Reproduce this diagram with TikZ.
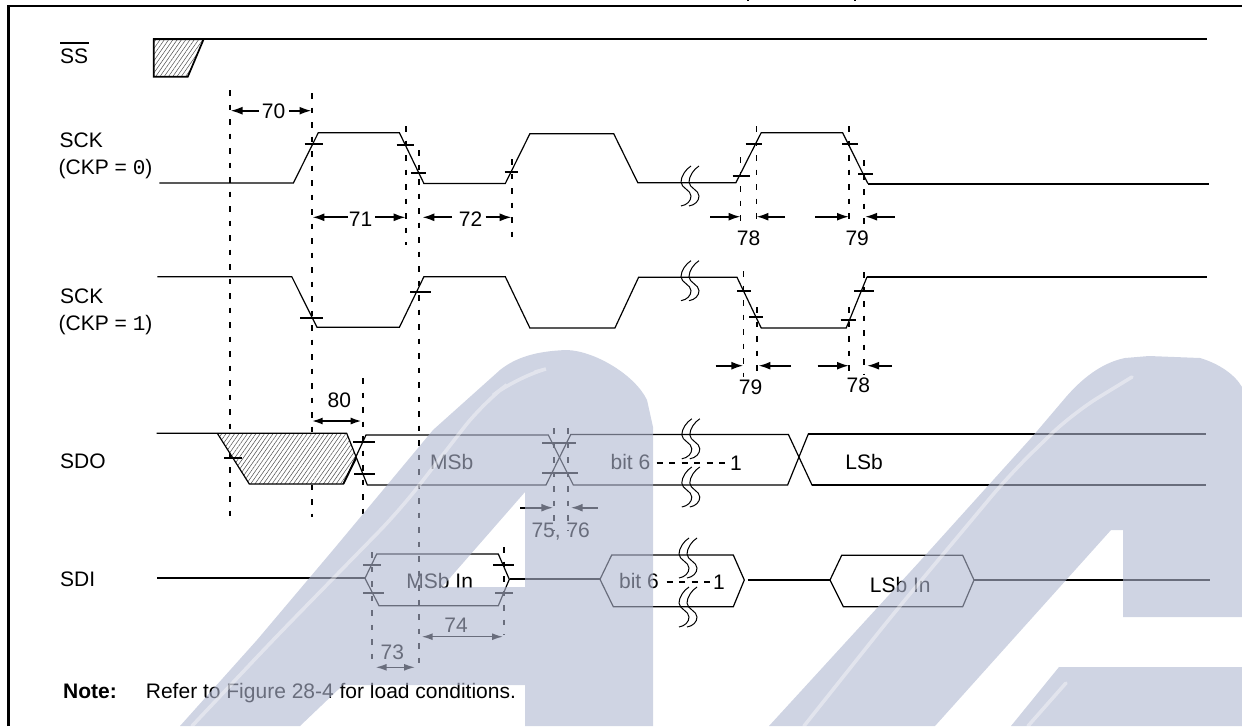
\documentclass[tikz,border=0pt]{standalone}
\usepackage{fontspec}
\setmainfont{Liberation Sans}
\newfontfamily\digitfont{Liberation Mono}
\usetikzlibrary{arrows.meta,patterns.meta}
\definecolor{wmark}{RGB}{175,183,208}
\tikzset{
  wave/.style={line width=1.2pt,line join=miter},
  wavethick/.style={line width=2pt},
  edgetick/.style={line width=1.8pt},
  guide/.style={line width=1.7pt,dash pattern=on 5.5pt off 9pt},
  gapdash/.style={line width=1.5pt,dash pattern=on 6pt off 6.5pt},
  frameline/.style={line width=2.5pt},
  dim/.style={line width=1.9pt},
  dimsmall/.style={line width=1.5pt},
  tipr/.style={-{Latex[length=12pt,width=8pt]}},
  tipb/.style={{Latex[length=11pt,width=7pt]}-{Latex[length=11pt,width=7pt]}},
  lab/.style={inner sep=0pt,anchor=base,font=\fontsize{21pt}{24pt}\selectfont},
  labw/.style={inner sep=0pt,anchor=base west,font=\fontsize{21pt}{24pt}\selectfont},
  hatchfill/.style={pattern={Lines[angle=55,distance=3.5pt,line width=.5pt]},pattern color=black!70},
  wm/.style={fill=wmark,fill opacity=.6,draw=none},
  shine/.style={draw=white,draw opacity=.4,line width=3.5pt,line cap=round,rounded corners=30pt},
  tornbrk/.pic={
    \foreach \o in {-4,4}{
      \draw[line width=1pt,xshift=\o pt] (5,-20) .. controls (0,-17) and (-5,-10) .. (-5,-4)
        .. controls (-5,2) and (5,4) .. (5,10) .. controls (5,15) and (1,19) .. (-5,20);
    }
  }
}
\newcommand{\arr}[5]{\coordinate (#1a) at (#2,#4);\coordinate (#1b) at (#3,#4);\draw[#5] (#1a) -- (#1b);}
\newcommand{\tck}[3]{\draw[edgetick] (#1,#3) -- (#2,#3);}
\newcommand{\gd}[3]{\draw[guide] (#1,#2) -- (#1,#3);}
\begin{document}
\begin{tikzpicture}[x=1pt,y=-1pt]
\useasboundingbox (0,0) rectangle (1242,726);
% frame
\draw[frameline] (8.5,726) -- (8.5,6) -- (1242,6);
\draw[line width=2.5pt] (748,0) -- (748,1.4) (855,0) -- (855,1.4);
% labels
\node[labw] (ss) at (60,63.5) {SS};
\draw[line width=1.5pt] (60,43) -- (89,43);
\node[labw] (sck0) at (59.5,147) {SCK};
\node[labw] (ckp0) at (58.5,174.5) {(CKP = {\digitfont 0})};
\node[labw] (sck1) at (60,303.5) {SCK};
\node[labw] (ckp1) at (58.5,330.5) {(CKP = {\digitfont 1})};
\node[labw] (sdo) at (60,468.5) {SDO};
\node[labw] (sdi) at (60,586) {SDI};
% SS
\fill[hatchfill] (153.8,39.3) -- (203.6,39.3) -- (187.8,76.7) -- (153.8,76.7) -- cycle;
\draw[line width=1.7pt] (203.6,39.3) -- (187.8,76.7) -- (153.8,76.7) -- (153.8,39.3) -- (203.6,39.3);
\draw[wavethick] (153,39.3) -- (1207,39.3);
% guides
\gd{229.7}{90}{517}\gd{312}{93}{517}\gd{405.7}{126}{245}\gd{418.7}{150}{670}\gd{511.7}{159}{243}
\gd{740.6}{157}{227}\gd{756.4}{126}{227}\gd{849}{126}{227}\gd{864}{160}{227}
\gd{743.4}{271}{377}\gd{757.2}{307}{377}\gd{849}{307}{377}\gd{864}{272}{375}
\gd{363}{378}{520}\gd{554}{428}{530}\gd{568}{428}{530}
\gd{372.3}{552}{667}\gd{504}{547}{635}
% SCK CKP=0
\draw[wave] (159.4,183) -- (293.4,183) -- (318.3,132.7) -- (399.4,132.7) -- (423.9,183.5) -- (505.3,183.5) -- (529.9,133.7) -- (613.7,133.7) -- (637.8,182.7) -- (735.9,182.7) -- (761.2,132.7) -- (842.6,132.7) -- (867.9,183.5);
\draw[wavethick] (867.9,183.5) -- (1209,183.5);
\tck{304.5}{323.4}{143.7}\tck{396.6}{414}{145}\tck{411}{426}{172.7}\tck{504.5}{518}{172}
\tck{745.7}{762.3}{143.7}\tck{732.7}{749.7}{175.7}\tck{842.2}{858}{143.7}\tck{858}{873}{174}
\pic at (690,186) {tornbrk};
% SCK CKP=1
\draw[wave] (157.4,276.7) -- (291.8,276.7) -- (317,327.3) -- (399.4,327.3) -- (423.9,276.7) -- (505.3,276.7) -- (529.9,328) -- (614.9,328) -- (638.6,277.3) -- (737,277.3) -- (761.2,328) -- (846.2,328) -- (867.1,276.7);
\draw[wavethick] (867.1,276.7) -- (1207,276.7);
\tck{300}{323.4}{317.7}\tck{410}{431}{291.7}\tck{737}{750.5}{290.7}\tck{749}{763}{317}\tck{840.6}{855.7}{320}\tck{854}{874}{290.7}
\pic at (690,280.7) {tornbrk};
% dimension arrows upper
\node[lab] (n70) at (273.6,118) {70};
\arr{a70l}{259}{230.5}{110.7}{dim,tipr}\arr{a70r}{289.4}{311.5}{110.7}{dim,tipr}
\node[lab] (n71) at (360.6,226) {71};
\arr{a71l}{348}{312.4}{217.3}{dim,tipr}\arr{a71r}{375}{405.7}{217.3}{dim,tipr}
\node[lab] (n72) at (470.5,226) {72};
\arr{a72l}{452}{422.3}{217.3}{dim,tipr}\arr{a72r}{485.6}{511.7}{217.3}{dim,tipr}
\node[lab] (n78a) at (748.5,245) {78};
\arr{a78al}{710}{740.6}{216.7}{dim,tipr}\arr{a78ar}{785}{756.4}{216.7}{dim,tipr}
\node[lab] (n79a) at (857.2,245) {79};
\arr{a79al}{815.3}{849}{216.7}{dim,tipr}\arr{a79ar}{894.8}{865}{216.7}{dim,tipr}
\node[lab] (n79b) at (750.5,394) {79};
\arr{a79bl}{715.7}{743.4}{365.7}{dim,tipr}\arr{a79br}{791.2}{758.4}{365.7}{dim,tipr}
\node[lab] (n78b) at (858.4,392) {78};
\arr{a78bl}{817.7}{849}{365.7}{dim,tipr}\arr{a78br}{892}{867}{365.7}{dim,tipr}
\node[lab] (n80) at (339.3,407) {80};
\arr{a80}{311.7}{361.7}{421}{dim,tipb}
% SDO
\fill[white] (217.3,433.3) -- (346.7,433.3) -- (356,458.3) -- (343.3,484) -- (249.3,484) -- cycle;
\fill[hatchfill] (217.3,433.3) -- (346.7,433.3) -- (356,458.3) -- (343.3,484) -- (249.3,484) -- cycle;
\draw[wave] (156.7,433.3) -- (346.7,433.3) -- (367.3,485) -- (546,485) -- (570.7,434.5) -- (788.4,434.5) -- (812,485) -- (1205.5,485);
\draw[wave] (217.3,433.3) -- (249.3,484) -- (343.3,484) -- (366,435) -- (548.3,435) -- (573.3,485) -- (787.6,485) -- (808.3,434) -- (1205.5,434);
\draw[line width=1.8pt] (812,485) -- (1205.5,485) (808.3,434) -- (1205.5,434);
\draw[line width=1.8pt] (343.3,484) -- (356,458.3);
\tck{224.3}{241.7}{457.7}\tck{353.3}{375}{441.7}\tck{354}{375}{474}\tck{542}{576}{442.7}\tck{542}{577.7}{473}
\pic at (690.8,438.8) {tornbrk};
\pic at (690.8,487) {tornbrk};
\node[lab] (msb) at (451.7,469) {MSb};
\node[lab] (bit6o) at (630.5,469) {bit 6};
\node[labw] (oneo) at (730,470) {1};
\coordinate (dso) at (656.7,463);
\draw[gapdash] (dso) -- (dso -| oneo.base west);
\node[lab] (lsb) at (864,469.5) {LSb};
\arr{a75}{520}{553.3}{507.7}{dim,tipr}\arr{a76}{597.7}{570.7}{507.7}{dim,tipr}
\node[lab] (n7576) at (560.7,537.5) {75, 76};
% SDI
\draw[wavethick] (157,578.3) -- (365,578.3);
\draw[wave] (365,578.3) -- (376.7,554) -- (498.3,554) -- (509.3,579.3) -- (498.3,605.7) -- (379,605.7) -- cycle;
\draw[wavethick] (510,579.3) -- (600,579.3);
\draw[wave] (600,579.3) -- (611.7,555) -- (733.3,555) -- (744.3,580) -- (733.3,606.7) -- (613.3,606.7) -- cycle;
\draw[wavethick] (747.7,580) -- (830,580);
\draw[wave] (830,580) -- (841.7,555.3) -- (962.7,555.3) -- (974,580) -- (962.7,606.7) -- (843.3,606.7) -- cycle;
\draw[wavethick] (974,580) -- (1210,580);
\tck{363.3}{380.7}{564.7}\tck{363}{384}{592.7}\tck{493}{514}{565}\tck{495}{512.7}{592.7}
\pic at (688,558) {tornbrk};
\pic at (688,607) {tornbrk};
\node[lab] (msbin) at (439.7,588) {MSb In};
\node[lab] (bit6i) at (639,588.5) {bit 6};
\node[labw] (onei) at (713,589.5) {1};
\coordinate (dsi) at (666.7,582);
\draw[gapdash] (dsi) -- (dsi -| onei.base west);
\node[lab] (lsbin) at (900.3,592.5) {LSb In};
\node[lab] (n74) at (456,632) {74};
\arr{a74}{421.7}{503}{636.7}{dimsmall,tipb}
\node[lab] (n73) at (392.3,659) {73};
\arr{a73}{375.7}{415}{667.3}{dimsmall,tipb}
% note
\node[labw,font=\fontsize{21pt}{24pt}\selectfont\bfseries] (note) at (63,698) {Note:};
\node[labw] (ref) at (145.7,698) {Refer to Figure 28-4 for load conditions.};
% watermark
\path[wm,even odd rule]
  (180,726) -- (257,640) -- (333,550) -- (433,430) -- (500,370)
  .. controls (515,358) and (535,351) .. (567,350)
  .. controls (595,351) and (635,375) .. (647,400)
  -- (653,427) -- (653,726) -- (525,726) -- (525,685) -- (343,685) -- (300,726) -- cycle
  (525,492) -- (525,587) -- (442,587) -- cycle;
\path[wm]
  (769,726) -- (921,560) -- (1032,437) -- (1066,397)
  .. controls (1085,375) and (1105,362) .. (1125,358)
  -- (1149,356) -- (1200,358) .. controls (1220,364) and (1235,375) .. (1242,387)
  -- (1242,617) -- (1123,617) -- (1123,530) -- (1111,530) -- (935,726) -- cycle;
\path[wm]
  (1011,726) -- (1059,667) -- (1242,667) -- (1242,726) -- cycle;
\draw[shine] (192,726) -- (273,640) -- (400,510) -- (483,403) -- (517,377) -- (535,372);
\draw[shine] (804,726) -- (894,613) -- (1011,473) -- (1073,413) -- (1132,377);
\draw[shine] (1028,726) -- (1066,683);
\end{tikzpicture}
\end{document}
